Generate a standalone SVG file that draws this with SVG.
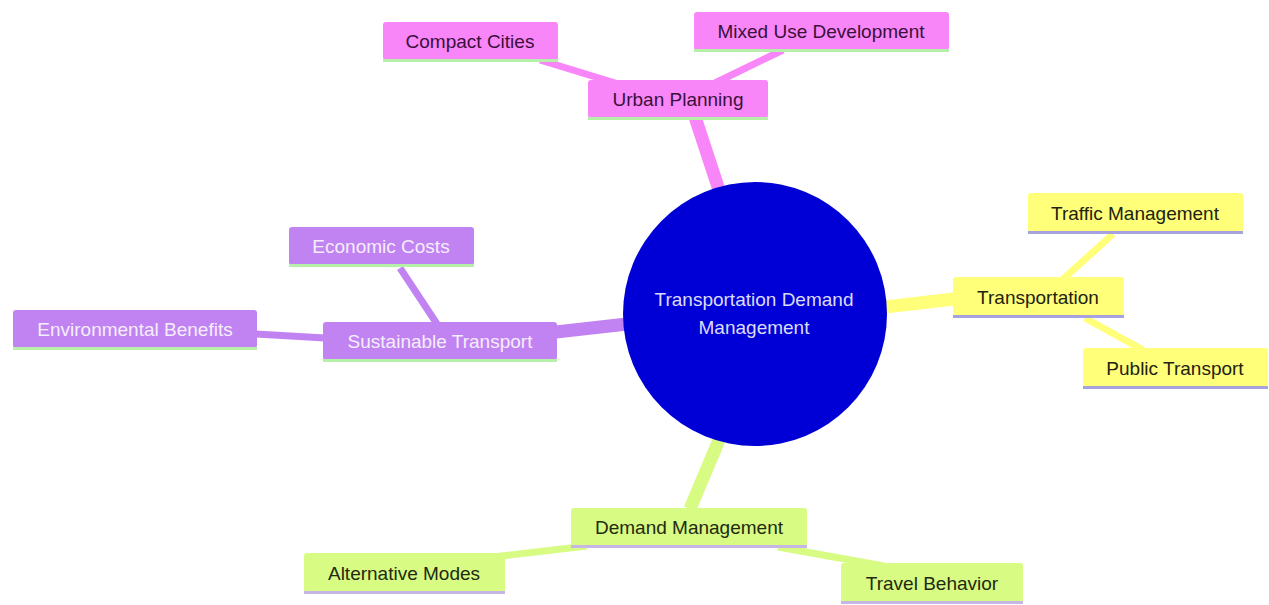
<svg xmlns="http://www.w3.org/2000/svg" width="1269" height="605" viewBox="0 0 1269 605">
<style>
text{font-family:"Liberation Sans",Arial,sans-serif;font-size:19px;text-anchor:middle;dominant-baseline:central}
.pk rect.b{fill:#f886f8}.pk text{fill:#3a103a}
.pu rect.b{fill:#c283f2}.pu text{fill:#f4eefc}
.ye rect.b{fill:#ffff7a}.ye text{fill:#222210}
.gr rect.b{fill:#d8fb84}.gr text{fill:#222a10}
.lg{fill:#b6f0a8}.lv{fill:#a6a2e0}.lv2{fill:#c6b6e6}
.c line{stroke-linecap:butt}
</style>
<g class="c" id="connectors">
<line x1="719" y1="190" x2="695" y2="117" stroke="#f886f8" stroke-width="13"/>
<line x1="627" y1="324" x2="556" y2="332" stroke="#c283f2" stroke-width="13"/>
<line x1="885" y1="307" x2="954" y2="299" stroke="#ffff7a" stroke-width="13"/>
<line x1="719" y1="440" x2="690" y2="509" stroke="#d8fb84" stroke-width="13"/>
<line x1="540" y1="60" x2="625" y2="86" stroke="#f886f8" stroke-width="7"/>
<line x1="783" y1="50" x2="713" y2="84" stroke="#f886f8" stroke-width="7"/>
<line x1="400" y1="268" x2="437" y2="324" stroke="#c283f2" stroke-width="7"/>
<line x1="256" y1="334" x2="325" y2="338" stroke="#c283f2" stroke-width="7"/>
<line x1="1113" y1="234" x2="1062" y2="280" stroke="#ffff7a" stroke-width="7"/>
<line x1="1085" y1="318" x2="1143" y2="350" stroke="#ffff7a" stroke-width="7"/>
<line x1="587" y1="546" x2="468" y2="560" stroke="#d8fb84" stroke-width="7"/>
<line x1="778" y1="547" x2="884" y2="566" stroke="#d8fb84" stroke-width="7"/>
</g>
<g id="root">
<circle cx="755" cy="314" r="132" fill="#0000d6"/>
<text x="754" y="299" fill="#dcdcf8">Transportation Demand</text>
<text x="754" y="327" fill="#dcdcf8">Management</text>
</g>
<g id="urban-planning" class="pk">
<rect class="b" x="588" y="80" width="180" height="38" rx="3"/><rect class="lg" x="588" y="117" width="180" height="3"/>
<text x="678" y="99">Urban Planning</text>
</g>
<g id="compact-cities" class="pk">
<rect class="b" x="383" y="22" width="175" height="38" rx="3"/><rect class="lg" x="383" y="59" width="175" height="3"/>
<text x="470" y="41">Compact Cities</text>
</g>
<g id="mixed-use" class="pk">
<rect class="b" x="694" y="12" width="255" height="38" rx="3"/><rect class="lg" x="694" y="49" width="255" height="3"/>
<text x="821" y="31">Mixed Use Development</text>
</g>
<g id="sustainable-transport" class="pu">
<rect class="b" x="323" y="322" width="234" height="38" rx="3"/><rect class="lg" x="323" y="359" width="234" height="3"/>
<text x="440" y="341">Sustainable Transport</text>
</g>
<g id="economic-costs" class="pu">
<rect class="b" x="289" y="227" width="185" height="38" rx="3"/><rect class="lg" x="289" y="264" width="185" height="3"/>
<text x="381" y="246">Economic Costs</text>
</g>
<g id="environmental-benefits" class="pu">
<rect class="b" x="13" y="310" width="244" height="38" rx="3"/><rect class="lg" x="13" y="347" width="244" height="3"/>
<text x="135" y="329">Environmental Benefits</text>
</g>
<g id="transportation" class="ye">
<rect class="b" x="953" y="277" width="171" height="39" rx="3"/><rect class="lv" x="953" y="315" width="171" height="3"/>
<text x="1038" y="297">Transportation</text>
</g>
<g id="traffic-management" class="ye">
<rect class="b" x="1028" y="193" width="215" height="39" rx="3"/><rect class="lv" x="1028" y="231" width="215" height="3"/>
<text x="1135" y="213">Traffic Management</text>
</g>
<g id="public-transport" class="ye">
<rect class="b" x="1083" y="348" width="185" height="39" rx="3"/><rect class="lv" x="1083" y="386" width="185" height="3"/>
<text x="1175" y="368">Public Transport</text>
</g>
<g id="demand-management" class="gr">
<rect class="b" x="571" y="508" width="236" height="38" rx="3"/><rect class="lv2" x="571" y="545" width="236" height="3"/>
<text x="689" y="527">Demand Management</text>
</g>
<g id="alternative-modes" class="gr">
<rect class="b" x="304" y="553" width="201" height="39" rx="3"/><rect class="lv2" x="304" y="591" width="201" height="3"/>
<text x="404" y="573">Alternative Modes</text>
</g>
<g id="travel-behavior" class="gr">
<rect class="b" x="841" y="563" width="182" height="39" rx="3"/><rect class="lv2" x="841" y="601" width="182" height="3"/>
<text x="932" y="583">Travel Behavior</text>
</g>
</svg>
